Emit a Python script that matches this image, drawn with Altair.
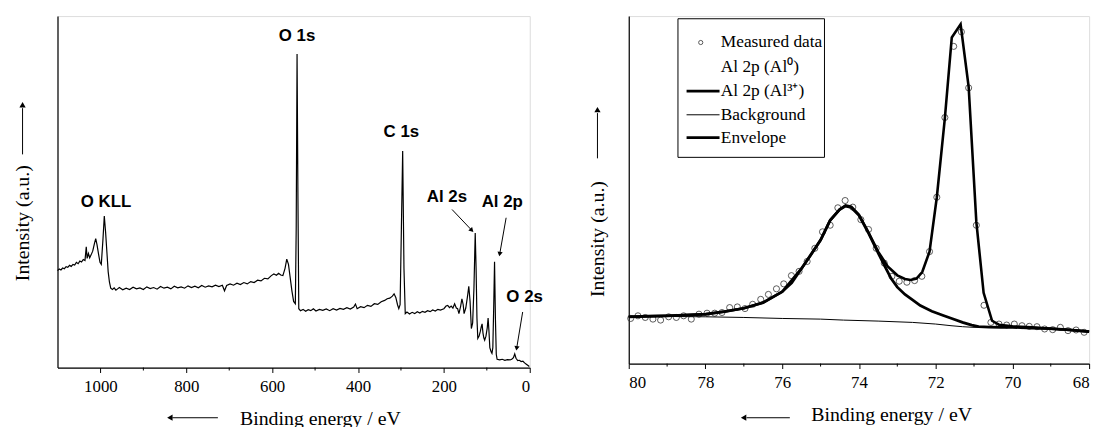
import altair as alt
import pandas as pd

# ---------------- survey spectrum (left) ----------------
survey_be = [1100, 1096, 1092, 1088, 1084, 1080, 1076, 1072, 1068, 1064, 1060, 1056, 1052, 1048, 1044,
             1040, 1036, 1033, 1031, 1028, 1025, 1022, 1018, 1014, 1011, 1008, 1004, 1001, 998, 994,
             991, 988, 985, 982, 979, 976, 972, 968, 964, 960,
             956, 948, 940, 932, 924, 916, 908, 900, 892, 884, 876, 868, 860, 852, 844, 836, 828, 820,
             812, 804, 796, 788, 780, 772, 764, 756, 748, 740, 732, 724, 716, 711, 706, 698, 690, 682,
             674, 666, 658, 650, 642, 634, 626, 618, 610, 602,
             596, 590, 585, 580, 575, 570, 566, 562, 558, 554, 550, 546, 544, 542, 540, 538,
             534, 528, 522, 516, 510, 504, 498, 490, 482, 474, 466, 458, 450, 442, 434, 426, 418, 410,
             406, 402, 394, 386, 378, 370, 362, 354, 346, 338, 332, 326, 320, 316, 312, 308, 305, 302,
             299, 296, 293, 290,
             286, 280, 274, 268, 262, 256, 250, 244, 238, 232, 226, 220, 214, 208, 200, 195, 191, 187,
             183, 179, 175, 171, 168, 165, 161, 158, 155, 153, 149, 145, 142, 139, 136, 133, 130, 127,
             125, 123, 121, 118, 115, 113, 111, 109, 107, 105, 102, 99, 97, 95, 93, 90, 88, 86, 84, 82,
             80, 78, 76, 70, 64, 58, 52, 46, 42, 38, 35, 32, 28, 24, 20, 16, 12, 8, 4, 1]
survey_counts = [293, 298, 295, 301, 299, 305, 303, 309, 306, 312, 310, 318, 314, 322, 319,
                 327, 324, 365, 330, 345, 332, 340, 352, 375, 390, 372, 340, 318, 312, 390,
                 458, 410, 350, 290, 258, 240, 236, 241, 234, 238,
                 242, 235, 240, 236, 243, 238, 241, 236, 244, 239, 242, 237, 245, 240, 243, 238, 246, 241,
                 244, 240, 247, 242, 246, 241, 248, 243, 247, 244, 249, 245, 249, 232, 248, 253, 249, 255,
                 251, 257, 253, 260, 257, 264, 262, 270, 268, 278,
                 283, 279, 285, 280, 278, 300, 328, 312, 272, 232, 200, 193, 420, 948, 520, 178,
                 172, 176, 170, 175, 172, 178, 171, 176, 173, 177, 172, 178, 174, 179, 176, 181, 177, 183,
                 192, 178, 184, 181, 188, 185, 193, 191, 199, 203, 208, 210, 216, 223, 212, 190, 178, 190,
                 420, 655, 300, 163,
                 168, 162, 167, 163, 169, 165, 170, 167, 172, 169, 174, 171, 176, 174, 178, 186, 188, 181,
                 186, 180, 193, 180, 178, 163, 185, 208, 190, 163, 180, 215, 246, 200, 118, 135, 240, 407,
                 300, 150, 88, 95, 110, 123, 132, 105, 90, 83, 95, 120, 150, 110, 60, 48, 43, 60, 180, 320,
                 150, 40, 25, 23, 25, 22, 24, 23, 25, 30, 41, 28, 21, 22, 18, 19, 14, 10, 6, 3]

survey_major = [1000, 800, 600, 400, 200, 0]
survey_minor = [900, 700, 500, 300, 100]

peak_labels = ["O 1s", "C 1s", "O KLL", "Al 2s", "Al 2p", "O 2s"]
peak_label_be = [542, 299, 987, 193, 64, 12]
peak_label_cnt = [1002, 712, 502, 515, 502, 212]

arrow_be_from = [181, 55, 16.5]
arrow_cnt_from = [478, 453, 168]
arrow_be_to = [135, 70, 30.5]
arrow_cnt_to = [415, 343, 58]
arrow_angle = [136, 190, 189]

# ---------------- Al 2p region (right) ----------------
meas_be = [79.95, 79.76, 79.57, 79.37, 79.17, 78.96, 78.76, 78.57, 78.37, 78.17, 77.96, 77.76, 77.57,
           77.37, 77.17, 76.97, 76.77, 76.56, 76.36, 76.15, 75.96, 75.76, 75.56, 75.35, 75.15, 74.95,
           74.75, 74.55, 74.36, 74.16, 73.95, 73.75, 73.55, 73.34, 73.14, 72.95, 72.75, 72.55, 72.36,
           72.16, 71.97, 71.76, 71.53, 71.33, 71.14, 70.94, 70.74, 70.56, 70.35, 70.15, 69.95, 69.75,
           69.56, 69.36, 69.16, 68.95, 68.75, 68.55, 68.34, 68.13]
meas_int = [137, 145, 140, 135, 132, 142, 140, 145, 135, 150, 153, 153, 155, 170, 172, 167, 180, 195,
            210, 227, 242, 267, 280, 310, 350, 400, 420, 473, 495, 475, 437, 407, 350, 305, 265, 250,
            247, 252, 265, 340, 505, 747, 963, 1007, 837, 420, 177, 125, 120, 117, 120, 115, 113, 112,
            105, 103, 110, 100, 102, 95]

env_be = [80, 79.5, 79, 78.5, 78, 77.5, 77, 76.5, 76, 75.75, 75.5, 75.25, 75, 74.75, 74.5, 74.35, 74.2,
          74, 73.75, 73.5, 73.25, 73, 72.8, 72.65, 72.5, 72.35, 72.16, 71.97, 71.76, 71.58, 71.35, 71.14,
          70.94, 70.75, 70.53, 70.35, 70, 69.5, 69, 68.5, 68]
env_int = [142, 144, 145, 147, 150, 158, 168, 185, 218, 245, 288, 330, 375, 435, 468, 480, 476, 452,
           398, 340, 295, 268, 257, 254, 258, 278, 340, 505, 745, 990, 1030, 840, 430, 215, 130, 118,
           113, 110, 106, 102, 97]

al3_be = [80, 79, 78, 77.5, 77, 76.5, 76, 75.5, 75, 74.75, 74.5, 74.35, 74.2, 74, 73.75, 73.5, 73.3,
          73.16, 73, 72.8, 72.63, 72.4, 72.1, 71.8, 71.58, 71.3, 71.06, 70.88, 70.6, 70.3, 70, 69.5, 69,
          68.5, 68]
al3_int = [142, 145, 150, 158, 168, 185, 218, 288, 375, 435, 468, 478, 474, 450, 396, 336, 290, 258,
           232, 210, 196, 176, 159, 146, 137, 125, 117, 112, 111, 110, 110, 108, 106, 102, 97]

bg_be = [80, 79, 78, 77, 76, 75, 74.4, 73.5, 72.6, 72, 71.6, 71.3, 71, 70.5, 70, 69.5, 69, 68.5, 68]
bg_int = [143, 143, 142, 140, 137, 135, 132, 129, 125, 120, 115, 112, 110, 110, 110, 109, 107, 103, 98]

hr_major = [80, 78, 76, 74, 72, 70, 68]
hr_minor = [79, 77, 75, 73, 71, 69]

legend_labels = ["Measured data", "Al 2p (Al\u2070)", "Al 2p (Al\u00b3\u207a)", "Background", "Envelope"]

# ---------------- styling ----------------
SERIF = "Liberation Serif"
SANS = "Liberation Sans"
LW, LH = 477, 355
RW, RH = 465, 351

one = pd.DataFrame({"d": [0]})


def x_enc(domain, values, field="be"):
    return alt.X(f"{field}:Q",
                 scale=alt.Scale(domain=domain, reverse=True, nice=False, zero=False),
                 axis=alt.Axis(values=values, format="d", tickSize=5, tickWidth=1, labelPadding=6,
                               labelFontSize=17, labelFont=SERIF, labelColor="black",
                               domainColor="black", domainWidth=1.2, tickColor="black", grid=False,
                               title="Binding energy / eV", titleFont=SERIF, titleFontSize=20,
                               titleFontWeight="normal", titleColor="black", titleX=265, titleY=52,
                               titleAlign="center", titleBaseline="middle"))


def y_enc(top, tx, ty, field="cnt"):
    return alt.Y(f"{field}:Q",
                 scale=alt.Scale(domain=[0, top], nice=False, zero=False),
                 axis=alt.Axis(ticks=False, labels=False, domain=True, domainColor="black",
                               domainWidth=1.2, grid=False, title="Intensity (a.u.)",
                               titleFont=SERIF, titleFontSize=20, titleFontWeight="normal",
                               titleColor="black", titleAngle=270, titleX=tx, titleY=ty,
                               titleAlign="center", titleBaseline="middle"))


def rule(x1, y1, x2, y2, w=1.0):
    return alt.Chart(one).mark_rule(color="black", strokeWidth=w).encode(
        x=alt.value(x1), y=alt.value(y1), x2=alt.value(x2), y2=alt.value(y2))


def head(x, y, shape, size=40):
    return alt.Chart(one).mark_point(shape=shape, filled=True, color="black", opacity=1,
                                     size=size).encode(x=alt.value(x), y=alt.value(y))


def minor_ticks(values, h, dom):
    d = pd.DataFrame({"be": values})
    return alt.Chart(d).mark_rule(color="black", strokeWidth=1).encode(
        x=alt.X("be:Q", scale=alt.Scale(domain=dom, reverse=True, nice=False, zero=False)),
        y=alt.value(h), y2=alt.value(h + 3))


# ---------------- left panel ----------------
LDOM = [0, 1100]
xs = x_enc(LDOM, survey_major)
ys = y_enc(1063, -35.6, 208.7)

sdf = pd.DataFrame({"be": survey_be, "cnt": survey_counts})
spectrum = alt.Chart(sdf).mark_line(color="black", strokeWidth=1.2).encode(x=xs, y=ys)

ldf = pd.DataFrame({"be": peak_label_be, "cnt": peak_label_cnt, "label": peak_labels})
labels = alt.Chart(ldf).mark_text(font=SANS, fontWeight="bold", fontSize=17, color="black",
                                  align="center", baseline="middle").encode(x=xs, y=ys, text="label:N")

adf = pd.DataFrame({"be": arrow_be_from, "cnt": arrow_cnt_from,
                    "be2": arrow_be_to, "cnt2": arrow_cnt_to, "ang": arrow_angle})
arrows = alt.Chart(adf).mark_rule(color="black", strokeWidth=1).encode(
    x=xs, y=ys, x2="be2:Q", y2="cnt2:Q")
heads = alt.Chart(adf).mark_point(shape="triangle-up", filled=True, color="black", opacity=1,
                                  size=28).encode(
    x=alt.X("be2:Q", scale=alt.Scale(domain=LDOM, reverse=True, nice=False, zero=False)),
    y=alt.Y("cnt2:Q", scale=alt.Scale(domain=[0, 1063], nice=False, zero=False)),
    angle=alt.Angle("ang:Q", scale=None))

left = alt.layer(
    spectrum, labels, arrows, heads,
    minor_ticks(survey_minor, LH, LDOM),
    rule(162, 405.7, 116, 405.7), head(113.5, 405.7, "triangle-left"),
    rule(-35.3, 139.7, -35.3, 93), head(-35.3, 89.5, "triangle-up"),
).properties(width=LW, height=LH)

# ---------------- right panel ----------------
RDOM = [68, 80]
xr = x_enc(RDOM, hr_major)
yr = y_enc(1055, -31.6, 224.7)

mdf = pd.DataFrame({"be": meas_be, "cnt": meas_int})
edf = pd.DataFrame({"be": env_be, "cnt": env_int})
a3df = pd.DataFrame({"be": al3_be, "cnt": al3_int})
bdf = pd.DataFrame({"be": bg_be, "cnt": bg_int})

meas = alt.Chart(mdf).mark_point(shape="circle", filled=False, color="#333333", strokeWidth=0.8,
                                 size=38, opacity=1).encode(x=xr, y=yr)
bgl = alt.Chart(bdf).mark_line(color="black", strokeWidth=1).encode(x=xr, y=yr)
al3 = alt.Chart(a3df).mark_line(color="black", strokeWidth=2.8).encode(x=xr, y=yr)
env = alt.Chart(edf).mark_line(color="black", strokeWidth=2.6).encode(x=xr, y=yr)

# legend (drawn by hand)
box = alt.Chart(one).mark_rect(fill="white", stroke="black", strokeWidth=1).encode(
    x=alt.value(49.7), x2=alt.value(197.7), y=alt.value(2.7), y2=alt.value(142.7))
row_y = [26.7, 51.7, 75.7, 99.7, 122.7]
leg_layers = [box]
for lab, yy in zip(legend_labels, row_y):
    leg_layers.append(alt.Chart(one).mark_text(text=lab, font=SERIF, fontSize=17.5, color="black",
                                               align="left", baseline="middle").encode(
        x=alt.value(93), y=alt.value(yy)))
leg_layers.append(alt.Chart(one).mark_point(shape="circle", filled=False, color="#333333",
                                            strokeWidth=0.8, size=18, opacity=1).encode(
    x=alt.value(72.7), y=alt.value(row_y[0])))
leg_layers.append(rule(58.4, row_y[2], 91.7, row_y[2], 2.8))
leg_layers.append(rule(58.4, row_y[3], 91.7, row_y[3], 1))
leg_layers.append(rule(58.4, row_y[4], 91.7, row_y[4], 2.8))

right = alt.layer(
    meas, bgl, al3, env,
    minor_ticks(hr_minor, RH, RDOM),
    *leg_layers,
    rule(162.7, 405.7, 119, 405.7), head(116, 405.7, "triangle-left"),
    rule(-31.6, 143.7, -31.6, 98), head(-31.6, 94.5, "triangle-up"),
).properties(width=RW, height=RH)

chart = alt.hconcat(left, right, spacing=100, bounds="flush").properties(
    padding={"left": 3, "top": 5, "right": 5, "bottom": 5}
).configure_view(stroke=None).configure_axis(
    labelFont=SERIF, titleFont=SERIF, labelColor="black", titleColor="black"
).configure(background="white")

chart.save("out.html", embed_options={"renderer": "svg", "actions": False})
